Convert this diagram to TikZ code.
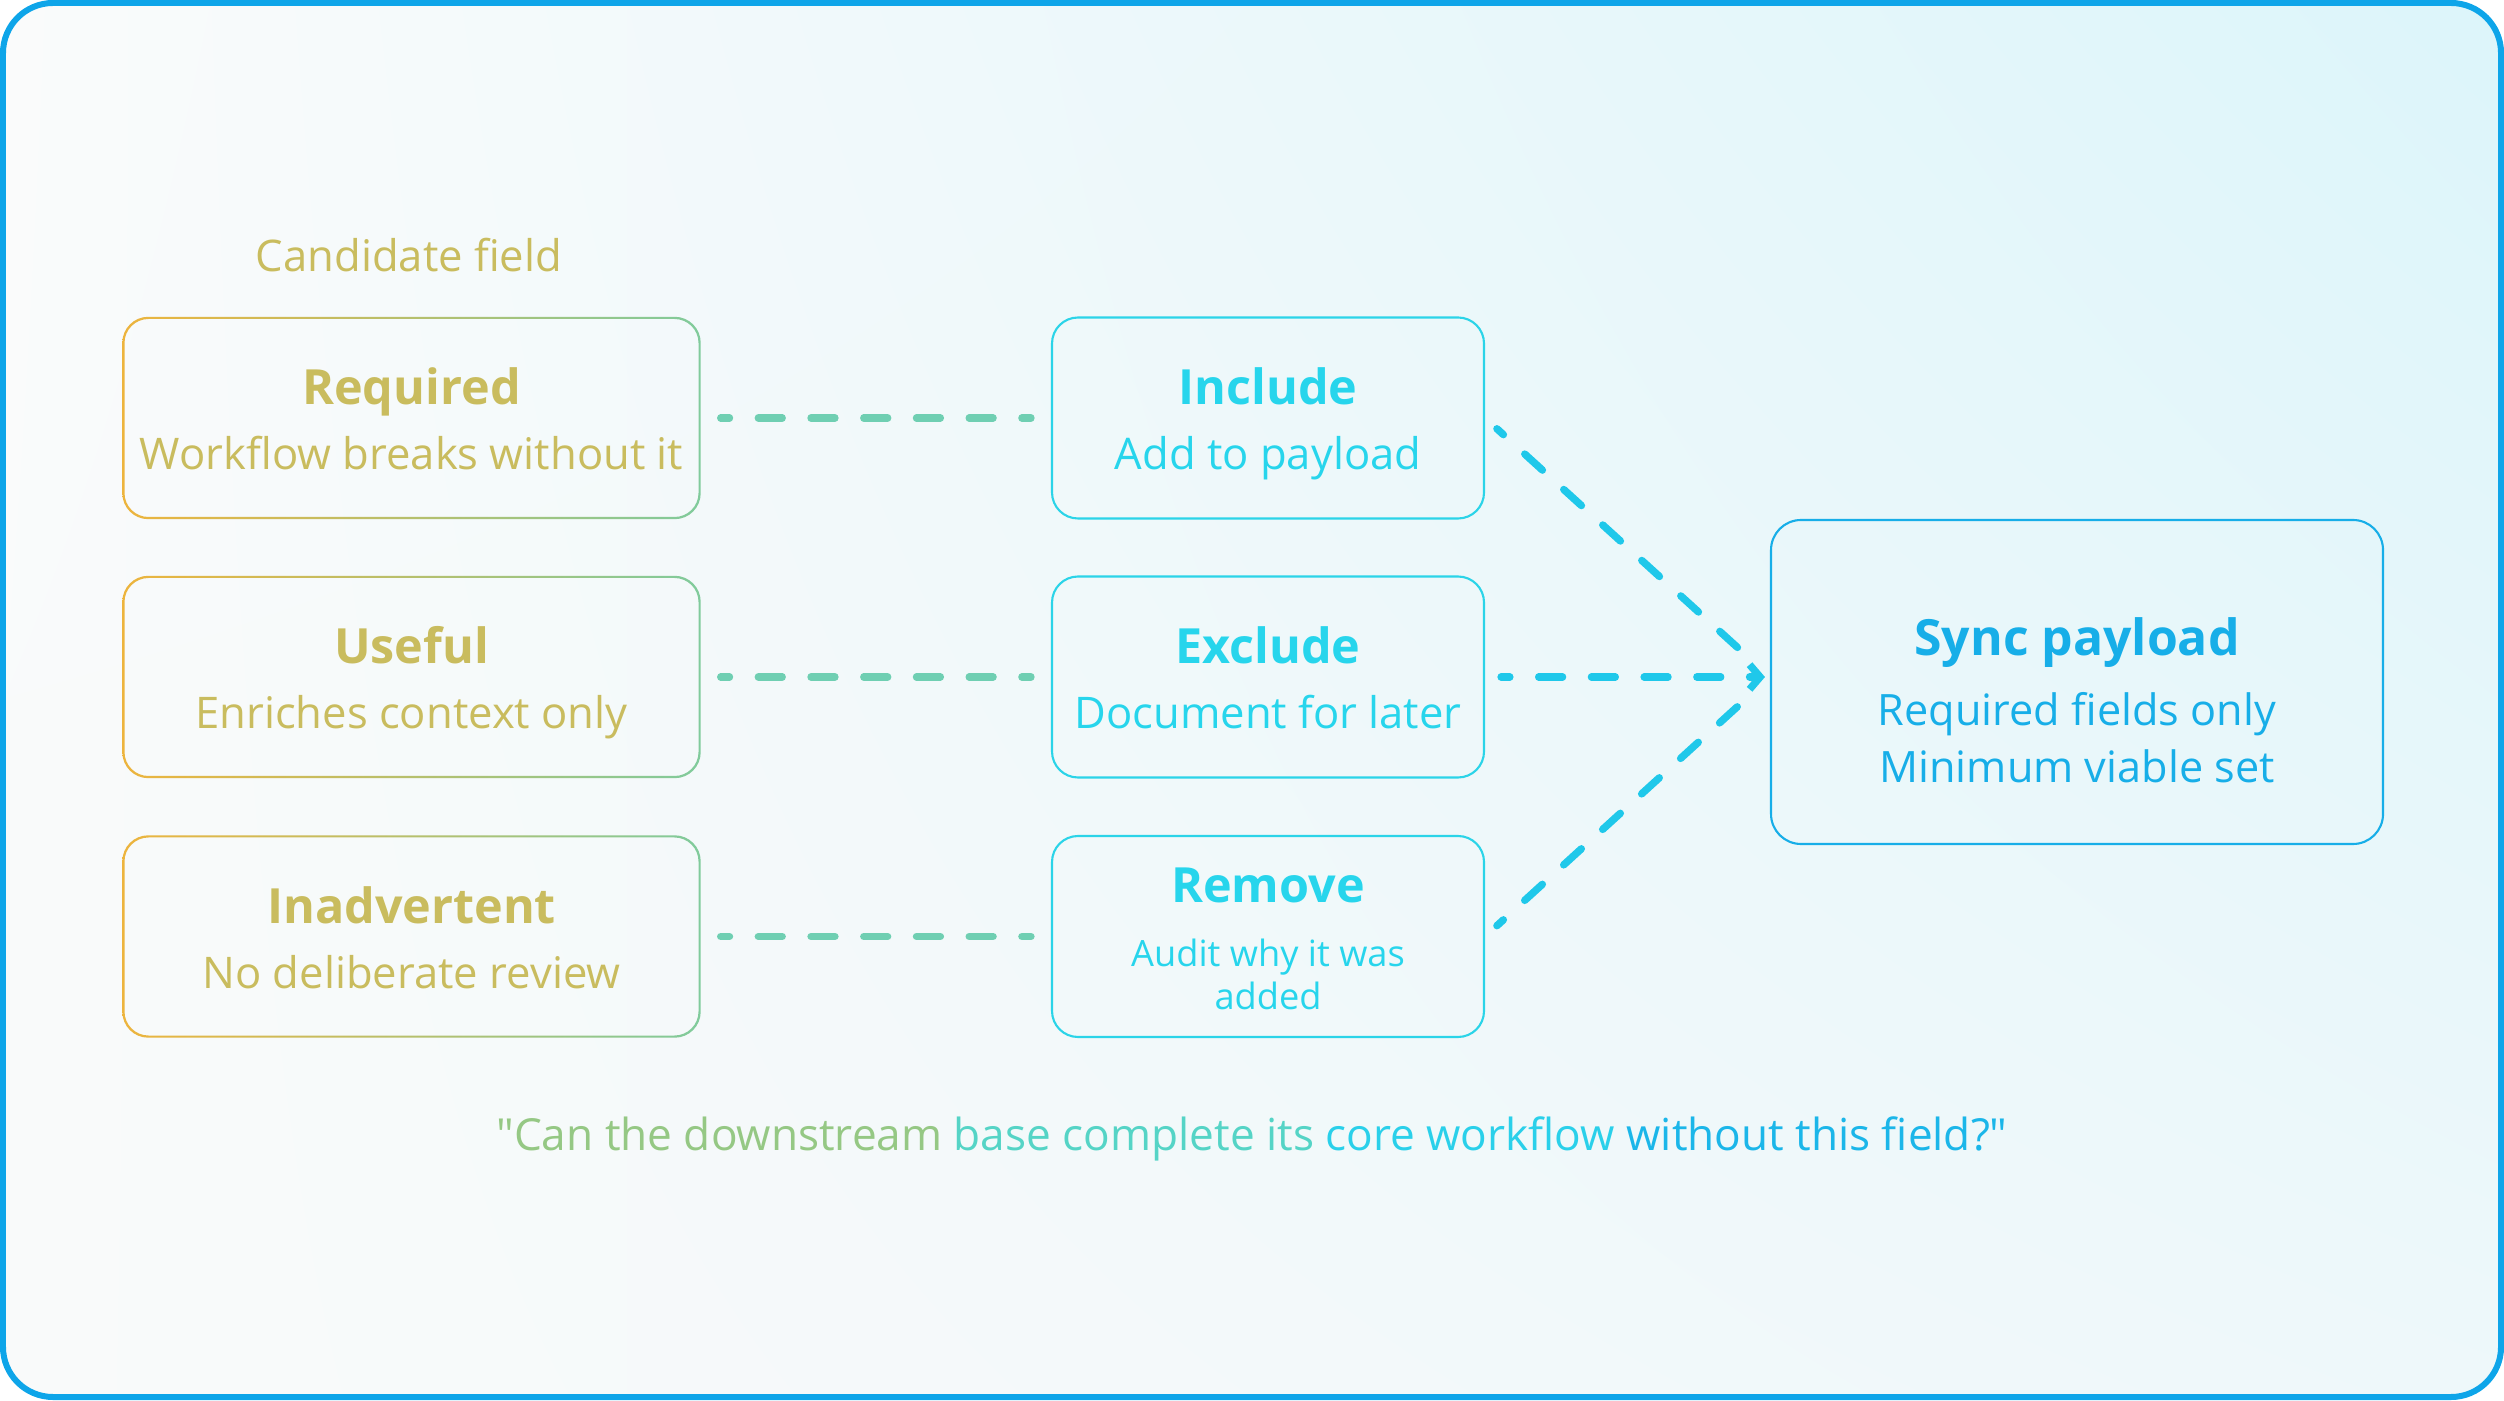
\documentclass[tikz,border=0pt]{standalone}
\usepackage{fontspec}
\setmainfont{Open Sans}[Ligatures=TeXOff]
\usetikzlibrary{arrows.meta,positioning,shadings}
\definecolor{frameblue}{HTML}{0EA5E9}
\definecolor{bgtl}{HTML}{FAFBFB}
\definecolor{bgtr}{HTML}{DCF5FA}
\definecolor{bgbl}{HTML}{F9FAFA}
\definecolor{bgbr}{HTML}{EEF8FA}
\definecolor{fieldA}{HTML}{EDB43D}
\definecolor{fieldB}{HTML}{80CB9C}
\definecolor{fieldtxt}{HTML}{C9BC5E}
\definecolor{actline}{HTML}{2BD4E8}
\definecolor{acttxt}{HTML}{27D5EC}
\definecolor{syncblue}{HTML}{17AEE8}
\definecolor{linkgreen}{HTML}{6FCFB2}
\definecolor{flowcyan}{HTML}{1FC8EA}
\definecolor{qa}{HTML}{95C884}
\definecolor{qb}{HTML}{55D4C6}
\definecolor{qc}{HTML}{2AD0EA}
\definecolor{qd}{HTML}{1BB6E9}
\newcommand{\boxhead}[1]{{\fontsize{13.8}{18}\selectfont\bfseries\rule{0pt}{14pt}#1}}
\newcommand{\boxend}{\rule[-3pt]{0pt}{3pt}}

\begin{document}
\begin{tikzpicture}[font=\fontsize{12.4}{18.4}\selectfont,
  fieldbox/.style={minimum width=5.77cm,minimum height=2.01cm,align=center,text=fieldtxt,inner sep=0pt},
  actbox/.style={draw=actline,line width=0.6pt,rounded corners=0.26cm,minimum width=4.32cm,minimum height=2.01cm,align=center,text=acttxt,inner sep=0pt},
  link/.style={linkgreen,line width=2.1pt,line cap=round,dash pattern=on 6.8pt off 8.2pt,dash phase=4.3pt,shorten <=0.2cm,shorten >=0.2cm},
  flow/.style={flowcyan,line width=2.1pt,line cap=round,dash pattern=on 6.8pt off 8.2pt,dash phase=4.3pt,shorten <=0.16cm}]
\useasboundingbox (0,0) rectangle (25.04,14);
\shade[upper left=bgtl,upper right=bgtr,lower left=bgbl,lower right=bgbr,rounded corners=0.5cm] (0.03,0.03) rectangle (25.01,13.97);
\draw[frameblue,line width=0.06cm,rounded corners=0.5cm] (0.03,0.03) rectangle (25.01,13.97);

% candidate fields
\node[text=fieldtxt,font=\fontsize{12.4}{15}\selectfont] (cand) at (4.09,11.45) {Candidate field};
\node[fieldbox] (req) at (4.115,9.82) {\boxhead{Required}\\Workflow breaks without it\boxend};
\node[fieldbox] (use) at (4.115,7.23) {\boxhead{Useful}\\Enriches context only\boxend};
\node[fieldbox] (inad) at (4.115,4.635) {\boxhead{Inadvertent}\\No deliberate review\boxend};
\foreach \n in {req,use,inad}
  \shade[left color=fieldA,right color=fieldB,even odd rule,rounded corners=0.26cm]
    (\n.south west) rectangle (\n.north east)
    [rounded corners=0.24cm] ([shift={(0.022,0.022)}]\n.south west) rectangle ([shift={(-0.022,-0.022)}]\n.north east);

% actions
\node[actbox] (inc) at (12.68,9.82) {\boxhead{Include}\\Add to payload\boxend};
\node[actbox] (exc) at (12.68,7.23) {\boxhead{Exclude}\\Document for later\boxend};
\node[actbox,font=\fontsize{10.3}{12.2}\selectfont] (rem) at (12.68,4.635) {\boxhead{Remove}\\[6pt]Audit why it was\\added\boxend};

\node[draw=syncblue,line width=0.6pt,rounded corners=0.3cm,minimum width=6.12cm,minimum height=3.24cm,align=center,text=syncblue,inner sep=0pt,font=\fontsize{12.3}{16.2}\selectfont] (sync) at (20.77,7.18)
  {{\fontsize{14.2}{18}\selectfont\bfseries\rule{0pt}{21pt}Sync payload}\\[3.7pt]Required fields only\\Minimum viable set};

\draw[link] (req) -- (inc);
\draw[link] (use) -- (exc);
\draw[link] (inad) -- (rem);
\draw[flow,shorten >=0.35cm] (inc.east) -- (exc -| sync.west);
\draw[flow,shorten >=0.05cm,-{Straight Barb[length=3pt,width=7pt]}] (exc) -- (exc -| sync.west);
\draw[flow,shorten >=0.35cm] (rem.east) -- (exc -| sync.west);

\node[font=\fontsize{12.56}{15}\selectfont] (quest) at (12.52,2.61) {\textcolor{qa}{"Can the downstream} \textcolor{qb}{base complete its} \textcolor{qc}{core workflow} \textcolor{qd}{without this field?"}};
\end{tikzpicture}
\end{document}
